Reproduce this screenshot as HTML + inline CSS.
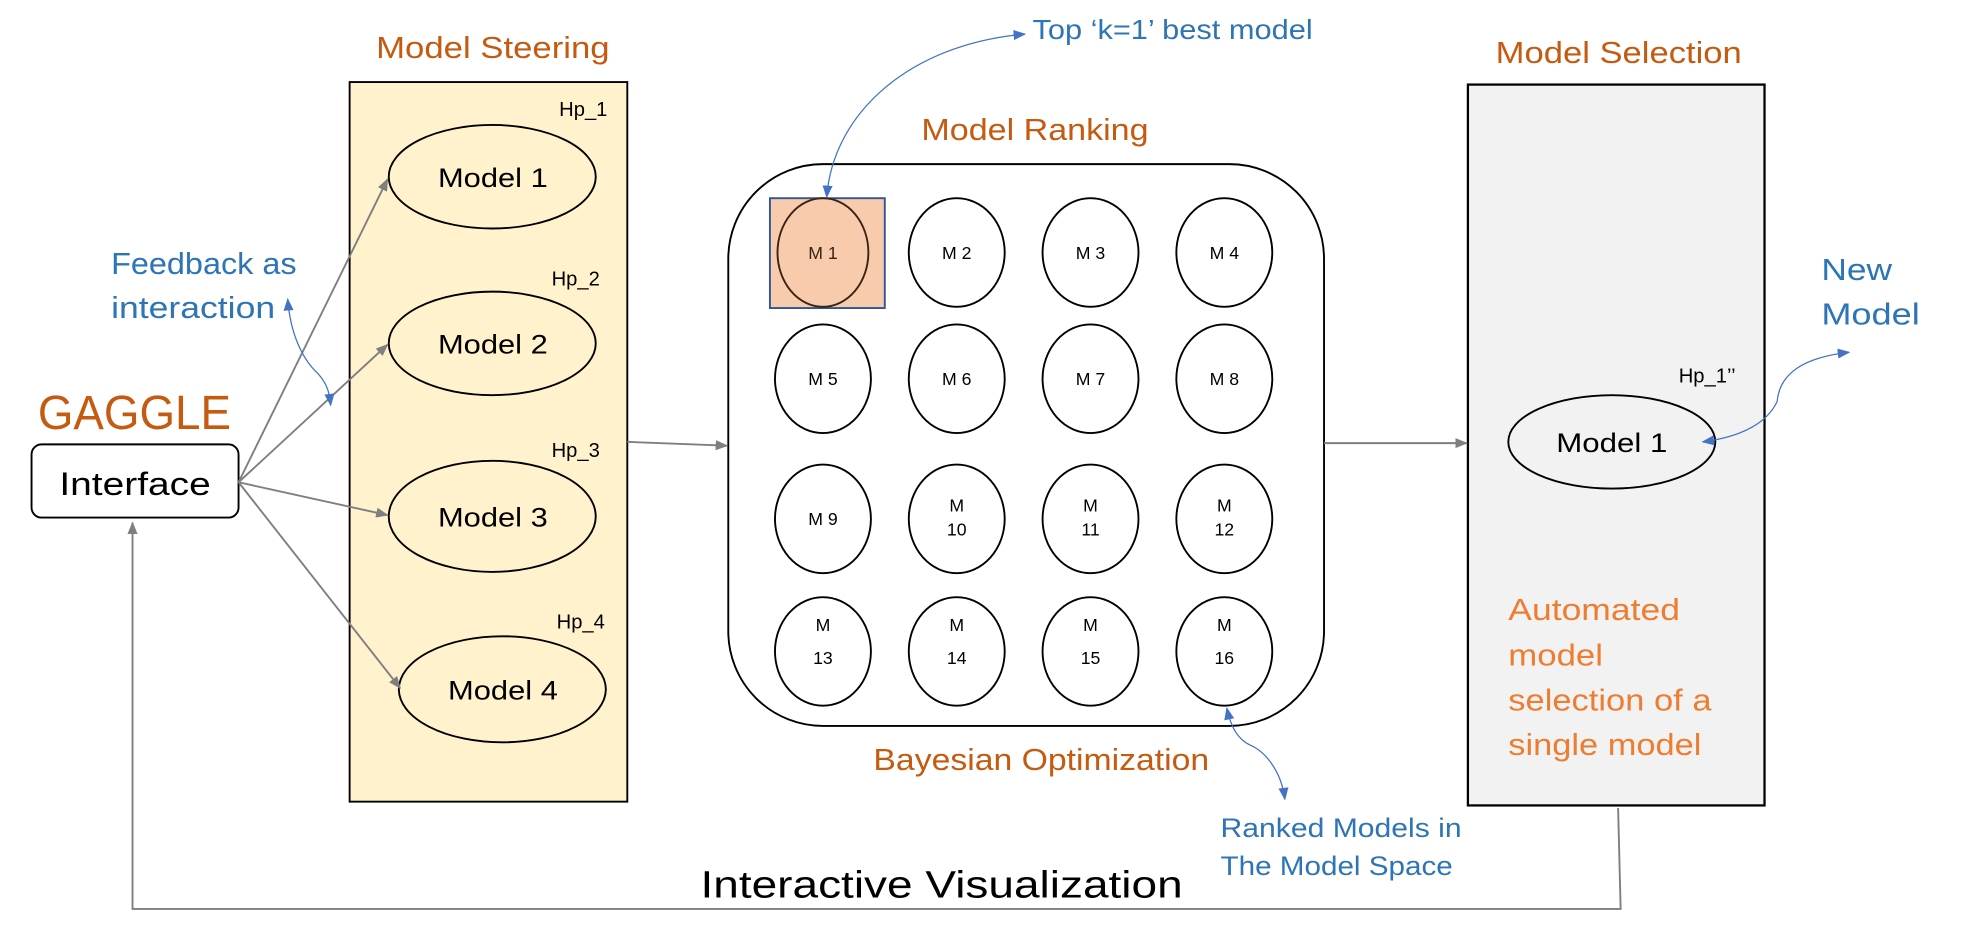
<!DOCTYPE html>
<html><head><meta charset="utf-8"><style>html,body{margin:0;padding:0;background:#fff}svg{display:block}</style></head>
<body>
<svg width="1969" height="938" viewBox="0 0 1560 743" preserveAspectRatio="none" xmlns="http://www.w3.org/2000/svg" font-family="Liberation Sans, sans-serif">
<defs>
<marker id="ag" markerWidth="10" markerHeight="8" refX="9" refY="4" orient="auto" markerUnits="userSpaceOnUse"><path d="M0,0 L10,4 L0,8 Z" fill="#7f7f7f"/></marker>
<marker id="ab" markerWidth="10" markerHeight="8" refX="9" refY="4" orient="auto" markerUnits="userSpaceOnUse"><path d="M0,0 L10,4 L0,8 Z" fill="#4472C4"/></marker>
<marker id="abs" markerWidth="10" markerHeight="8" refX="1" refY="4" orient="auto" markerUnits="userSpaceOnUse"><path d="M10,0 L0,4 L10,8 Z" fill="#4472C4"/></marker>
</defs>
<g fill="#C55A11" font-size="24">
<text x="298" y="46" textLength="185" lengthAdjust="spacingAndGlyphs">Model Steering</text>
<text x="730" y="111" textLength="180" lengthAdjust="spacingAndGlyphs">Model Ranking</text>
<text x="1185" y="50" textLength="195" lengthAdjust="spacingAndGlyphs">Model Selection</text>
<text x="692" y="610" textLength="266" lengthAdjust="spacingAndGlyphs">Bayesian Optimization</text>
<text x="338" y="626" textLength="92" lengthAdjust="spacingAndGlyphs">... more</text>
<text x="30" y="340" font-size="38" textLength="153" lengthAdjust="spacingAndGlyphs">GAGGLE</text>
</g>
<rect x="277" y="65" width="220" height="570" fill="#FFF2CC" stroke="#000" stroke-width="1.5"/>
<rect x="1163" y="67" width="235" height="571" fill="#F2F2F2" stroke="#000" stroke-width="1.8"/>
<rect x="577" y="130" width="472" height="445" rx="75" fill="#fff" stroke="#000" stroke-width="1.5"/>
<rect x="25" y="352" width="164" height="58" rx="8" fill="#fff" stroke="#000" stroke-width="1.5"/>
<text x="47" y="392" font-size="26" textLength="120" lengthAdjust="spacingAndGlyphs">Interface</text>
<g fill="#FFF2CC" stroke="#000" stroke-width="1.5">
<ellipse cx="390" cy="140" rx="82" ry="41"/>
<ellipse cx="390" cy="272" rx="82" ry="41"/>
<ellipse cx="390" cy="409" rx="82" ry="44"/>
<ellipse cx="398" cy="546" rx="82" ry="42"/>
</g>
<g font-size="21">
<text x="347" y="148" textLength="87" lengthAdjust="spacingAndGlyphs">Model 1</text>
<text x="347" y="280" textLength="87" lengthAdjust="spacingAndGlyphs">Model 2</text>
<text x="347" y="417" textLength="87" lengthAdjust="spacingAndGlyphs">Model 3</text>
<text x="355" y="554" textLength="87" lengthAdjust="spacingAndGlyphs">Model 4</text>
</g>
<g font-size="16">
<text x="443" y="92">Hp_1</text>
<text x="437" y="226">Hp_2</text>
<text x="437" y="362">Hp_3</text>
<text x="441" y="498">Hp_4</text>
<text x="1330" y="303">Hp_1’’</text>
</g>
<g stroke="#7f7f7f" stroke-width="1.5" fill="none">
<line x1="189" y1="382" x2="307" y2="142" marker-end="url(#ag)"/>
<line x1="189" y1="382" x2="307" y2="273" marker-end="url(#ag)"/>
<line x1="189" y1="382" x2="307" y2="408" marker-end="url(#ag)"/>
<line x1="189" y1="382" x2="317" y2="545" marker-end="url(#ag)"/>
<line x1="497" y1="350" x2="576" y2="353" marker-end="url(#ag)"/>
<line x1="1049" y1="351" x2="1162" y2="351" marker-end="url(#ag)"/>
<polyline points="1282,640 1284,720 105,720 105,414" marker-end="url(#ag)"/>
</g>
<rect x="610" y="157" width="91" height="87" fill="#F8CBAD" stroke="#2F5597" stroke-width="1.5"/>
<g fill="none" stroke="#000" stroke-width="1.5">
<ellipse cx="652" cy="200" rx="36" ry="43" stroke="#3b2314"/>
<ellipse cx="758" cy="200" rx="38" ry="43"/><ellipse cx="864" cy="200" rx="38" ry="43"/><ellipse cx="970" cy="200" rx="38" ry="43"/>
<ellipse cx="652" cy="300" rx="38" ry="43"/><ellipse cx="758" cy="300" rx="38" ry="43"/><ellipse cx="864" cy="300" rx="38" ry="43"/><ellipse cx="970" cy="300" rx="38" ry="43"/>
<ellipse cx="652" cy="411" rx="38" ry="43"/><ellipse cx="758" cy="411" rx="38" ry="43"/><ellipse cx="864" cy="411" rx="38" ry="43"/><ellipse cx="970" cy="411" rx="38" ry="43"/>
<ellipse cx="652" cy="516" rx="38" ry="43"/><ellipse cx="758" cy="516" rx="38" ry="43"/><ellipse cx="864" cy="516" rx="38" ry="43"/><ellipse cx="970" cy="516" rx="38" ry="43"/>
</g>
<g font-size="14" text-anchor="middle">
<text x="652" y="205" fill="#3b2314">M 1</text><text x="758" y="205">M 2</text><text x="864" y="205">M 3</text><text x="970" y="205">M 4</text>
<text x="652" y="305">M 5</text><text x="758" y="305">M 6</text><text x="864" y="305">M 7</text><text x="970" y="305">M 8</text>
<text x="652" y="416">M 9</text>
<text x="758" y="405">M</text><text x="758" y="424">10</text>
<text x="864" y="405">M</text><text x="864" y="424">11</text>
<text x="970" y="405">M</text><text x="970" y="424">12</text>
<text x="652" y="500">M</text><text x="652" y="526">13</text>
<text x="758" y="500">M</text><text x="758" y="526">14</text>
<text x="864" y="500">M</text><text x="864" y="526">15</text>
<text x="970" y="500">M</text><text x="970" y="526">16</text>
</g>
<ellipse cx="1277" cy="350" rx="82" ry="37" fill="#F2F2F2" stroke="#000" stroke-width="1.5"/>
<text x="1233" y="358" font-size="21" textLength="88" lengthAdjust="spacingAndGlyphs">Model 1</text>
<g fill="#2E75B6" font-size="24">
<text x="88" y="217" textLength="147" lengthAdjust="spacingAndGlyphs">Feedback as</text>
<text x="88" y="252" textLength="130" lengthAdjust="spacingAndGlyphs">interaction</text>
<text x="818" y="31" font-size="22" textLength="222" lengthAdjust="spacingAndGlyphs">Top ‘k=1’ best model</text>
<text x="967" y="663" font-size="21" textLength="191" lengthAdjust="spacingAndGlyphs">Ranked Models in</text>
<text x="967" y="693" font-size="21" textLength="184" lengthAdjust="spacingAndGlyphs">The Model Space</text>
<text x="1443" y="222" textLength="56" lengthAdjust="spacingAndGlyphs">New</text>
<text x="1443" y="257" textLength="78" lengthAdjust="spacingAndGlyphs">Model</text>
</g>
<g fill="#ED7D31" font-size="24">
<text x="1195" y="491" textLength="136" lengthAdjust="spacingAndGlyphs">Automated</text>
<text x="1195" y="527" textLength="75" lengthAdjust="spacingAndGlyphs">model</text>
<text x="1195" y="563" textLength="161" lengthAdjust="spacingAndGlyphs">selection of a</text>
<text x="1195" y="598" textLength="153" lengthAdjust="spacingAndGlyphs">single model</text>
</g>
<g stroke="#4472C4" stroke-width="1" fill="none">
<path d="M655,156 C660,90 720,35 812,27" marker-start="url(#abs)" marker-end="url(#ab)"/>
<path d="M228,237 C230,265 240,285 252,296 C260,305 261,312 262,321" marker-start="url(#abs)" marker-end="url(#ab)"/>
<path d="M972,561 C975,575 980,585 990,590 C1002,595 1015,610 1018,633" marker-start="url(#abs)" marker-end="url(#ab)"/>
<path d="M1349,350 C1380,346 1400,335 1408,318 C1410,295 1430,283 1465,279" marker-start="url(#abs)" marker-end="url(#ab)"/>
</g>
<text x="555" y="711" font-size="30" textLength="382" lengthAdjust="spacingAndGlyphs">Interactive Visualization</text>
</svg>
</body></html>
